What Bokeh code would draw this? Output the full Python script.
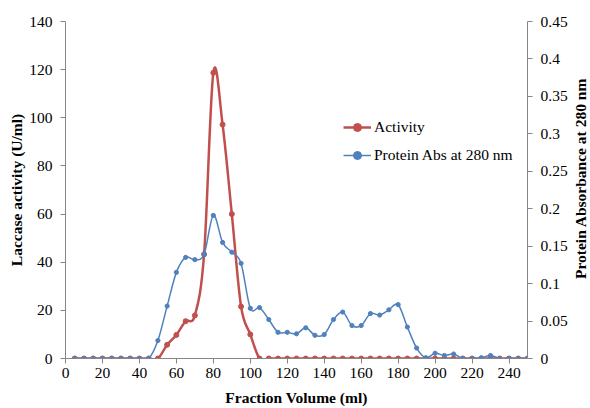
import math
from bokeh.plotting import figure
from bokeh.layouts import row
from bokeh.models import (Range1d, LinearAxis, FixedTicker, CustomJSTickFormatter,
                          Legend, LegendItem, ColumnDataSource, Label)
from bokeh.embed import file_html
from bokeh.resources import INLINE

fraction = list(range(5, 255, 5))
activity = ([0] * 9 +
            [0, 5.7, 9.8, 15.5, 17.9, 43.3, 118.7, 97.2, 60.0, 21.6, 10.0, 0] +
            [0] * 29)
protein = ([0] * 9 +
           [0.024, 0.070, 0.115, 0.135, 0.132, 0.139, 0.191, 0.155, 0.142, 0.127,
            0.067, 0.068, 0.052, 0.035, 0.035, 0.033, 0.041, 0.031, 0.032, 0.052,
            0.062, 0.044, 0.044, 0.060, 0.058, 0.065, 0.072, 0.042, 0.014, 0.001,
            0.007, 0.004, 0.006, 0.0, 0.0, 0.001, 0.004, 0.0, 0.0, 0.0, 0.0])

x_ticks = list(range(0, 260, 20))
left_ticks = list(range(0, 160, 20))
right_ticks = [0, 0.05, 0.1, 0.15, 0.2, 0.25, 0.3, 0.35, 0.4, 0.45]

RED = "#C0504D"
BLUE = "#4F81BD"
AXIS = "#868686"
FONT = "Liberation Serif"


def smooth_segments(xs, ys, t=1.0 / 6.0):
    n = len(xs)
    d = dict(x0=[], y0=[], x1=[], y1=[], cx0=[], cy0=[], cx1=[], cy1=[])
    for i in range(n - 1):
        a = i - 1 if i > 0 else i
        b = i + 2 if i + 2 < n else i + 1
        d["x0"].append(xs[i]); d["y0"].append(ys[i])
        d["x1"].append(xs[i + 1]); d["y1"].append(ys[i + 1])
        d["cx0"].append(xs[i] + (xs[i + 1] - xs[a]) * t)
        d["cy0"].append(ys[i] + (ys[i + 1] - ys[a]) * t)
        d["cx1"].append(xs[i + 1] - (xs[b] - xs[i]) * t)
        d["cy1"].append(ys[i + 1] - (ys[b] - ys[i]) * t)
    return ColumnDataSource(d)


p = figure(width=572, height=408, output_backend="svg", toolbar_location=None,
           x_range=Range1d(0, 250), y_range=Range1d(0, 140),
           min_border_left=65, min_border_right=45, min_border_top=21,
           min_border_bottom=50)
p.outline_line_color = None
p.xgrid.visible = False
p.ygrid.visible = False
p.extra_y_ranges = {"abs": Range1d(0, 0.45)}

red_src = smooth_segments(fraction, activity)
blue_src = smooth_segments(fraction, protein)

r_line = p.bezier(x0="x0", y0="y0", x1="x1", y1="y1", cx0="cx0", cy0="cy0",
                  cx1="cx1", cy1="cy1", source=red_src, line_color=RED, line_width=2.5)
r_pts = p.scatter(fraction, activity, marker="circle", size=5, color=RED)
b_line = p.bezier(x0="x0", y0="y0", x1="x1", y1="y1", cx0="cx0", cy0="cy0",
                  cx1="cx1", cy1="cy1", source=blue_src, line_color=BLUE,
                  line_width=1.5, y_range_name="abs")
b_pts = p.scatter(fraction, protein, marker="circle", size=4.2, color=BLUE,
                  y_range_name="abs")

right_axis = LinearAxis(y_range_name="abs", ticker=FixedTicker(ticks=right_ticks),
                        formatter=CustomJSTickFormatter(
                            code="return Number(tick.toFixed(2)).toString();"))
p.add_layout(right_axis, "right")

p.xaxis.ticker = FixedTicker(ticks=x_ticks)
p.yaxis[0].ticker = FixedTicker(ticks=left_ticks)
p.xaxis.axis_label = "Fraction Volume (ml)"
p.yaxis[0].axis_label = "Laccase activity (U/ml)"

for ax in [p.xaxis[0], p.yaxis[0], right_axis]:
    ax.axis_line_color = AXIS
    ax.major_tick_line_color = AXIS
    ax.minor_tick_line_color = None
    ax.major_tick_out = 5
    ax.major_tick_in = 0
    ax.major_label_text_font = FONT
    ax.major_label_text_font_size = "15.5px"
    ax.major_label_text_color = "black"
    ax.major_label_standoff = 8
    ax.axis_label_text_font = FONT
    ax.axis_label_text_font_size = "15.5px"
    ax.axis_label_text_font_style = "bold"
    ax.axis_label_text_color = "black"

p.xaxis[0].major_label_standoff = 4
p.xaxis[0].axis_label_standoff = 8
p.yaxis[0].axis_label_standoff = 1

legend = Legend(items=[LegendItem(label="Activity", renderers=[r_line, r_pts]),
                       LegendItem(label="Protein Abs at 280 nm", renderers=[b_line, b_pts])],
                location=(278, 193))
legend.border_line_color = None
legend.background_fill_alpha = 0
legend.padding = 0
legend.margin = 0
legend.spacing = 8
legend.glyph_width = 28
legend.glyph_height = 20
legend.label_height = 20
legend.label_standoff = 3
legend.label_text_font = FONT
legend.label_text_font_size = "15.5px"
legend.label_text_color = "black"
p.add_layout(legend, "center")

# narrow strip holding the right-hand axis title (reads bottom-to-top)
side = figure(width=18, height=408, output_backend="svg", toolbar_location=None,
              x_range=Range1d(0, 18), y_range=Range1d(408, 0),
              x_axis_location=None, y_axis_location=None,
              min_border=0, min_border_left=0, min_border_right=0,
              min_border_top=0, min_border_bottom=0)
side.outline_line_color = None
side.xgrid.visible = False
side.ygrid.visible = False
side.add_layout(Label(x=8, y=190, angle=math.pi / 2, text="Protein Absorbance at 280 nm",
                      text_font=FONT, text_font_size="15.5px", text_font_style="bold",
                      text_color="black", text_align="center", text_baseline="middle"))

layout = row(p, side, spacing=0)
open("out.html", "w").write(file_html(layout, INLINE))
